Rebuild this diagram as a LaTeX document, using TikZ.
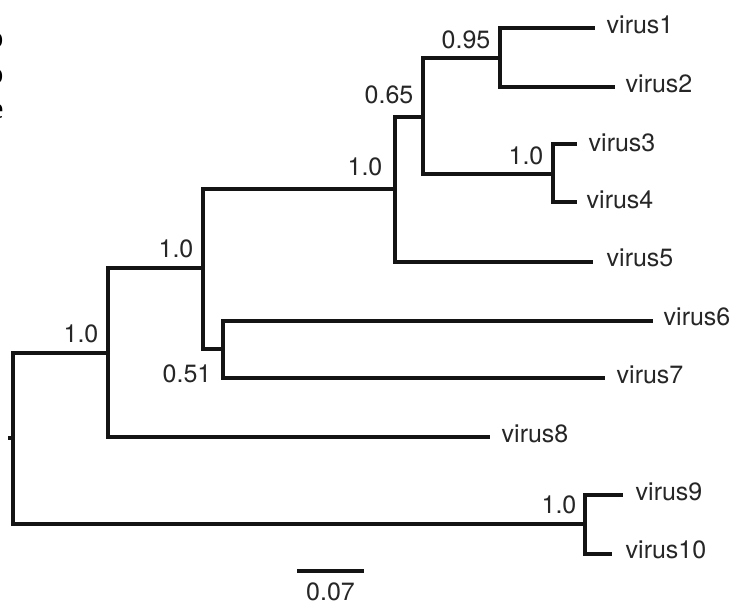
\documentclass[tikz,border=0pt]{standalone}
\usepackage{fontspec}
\setmainfont{TeX Gyre Heros}
\newfontfamily\fragfont{Liberation Serif}
\begin{document}
\begin{tikzpicture}[x=1pt,y=-1pt,
  branch/.style={line width=3.2pt, draw=black!92, line join=miter},
  leaflabel/.style={anchor=west, inner sep=0pt, font=\fontsize{25}{30}\selectfont, text=black!85},
  support/.style={anchor=center, inner sep=0pt, font=\fontsize{25}{30}\selectfont, text=black!85},
  fragment/.style={anchor=base east, inner sep=0pt, font=\fragfont\bfseries\fontsize{30}{36}\selectfont}
  ]
\useasboundingbox (0,0) rectangle (736,600);
\begin{scope}
  \clip (0,0) rectangle (736,600);
  \node[fragment] (f1) at (3.5,47) {o};
  \node[fragment] (f2) at (3.5,83) {o};
  \node[fragment] (f3) at (3.5,118) {e};
\end{scope}
% internal nodes
\coordinate (stub) at (8,438);
\coordinate (R) at (13,438);
\coordinate (A) at (108,353);
\coordinate (B) at (203,268);
\coordinate (C) at (395,189);
\coordinate (E) at (423,117);
\coordinate (F) at (500,58);
\coordinate (G) at (553,174);
\coordinate (D) at (223,349);
\coordinate (H) at (585,524);
% leaf tips
\coordinate (t1) at (595,28);
\coordinate (t2) at (615,87);
\coordinate (t3) at (577,144);
\coordinate (t4) at (577,202);
\coordinate (t5) at (593,262);
\coordinate (t6) at (653,321);
\coordinate (t7) at (605,378);
\coordinate (t8) at (490,437);
\coordinate (t9) at (623,495);
\coordinate (t10) at (612,554);
% branches
\draw[branch] (stub) -- (R);
\draw[branch] (R) |- (A);
\draw[branch] (R) |- (H);
\draw[branch] (A) |- (B);
\draw[branch] (A) |- (t8);
\draw[branch] (B) |- (C);
\draw[branch] (B) |- (D);
\draw[branch] (C) |- (E);
\draw[branch] (C) |- (t5);
\draw[branch] (E) |- (F);
\draw[branch] (E) |- (G);
\draw[branch] (F) |- (t1);
\draw[branch] (F) |- (t2);
\draw[branch] (G) |- (t3);
\draw[branch] (G) |- (t4);
\draw[branch] (D) |- (t6);
\draw[branch] (D) |- (t7);
\draw[branch] (H) |- (t9);
\draw[branch] (H) |- (t10);
% support values
\node[support] (sA) at (81,334) {1.0};
\node[support] (sB) at (176,249) {1.0};
\node[support] (sC) at (365,167) {1.0};
\node[support] (sE) at (389,95) {0.65};
\node[support] (sF) at (466,40) {0.95};
\node[support] (sG) at (526,156) {1.0};
\node[support] (sD) at (187,374) {0.51};
\node[support] (sH) at (559,505) {1.0};
% leaf labels
\node[leaflabel] (v1) at (606.5,25) {virus1};
\node[leaflabel] (v2) at (625.5,83.5) {virus2};
\node[leaflabel] (v3) at (588.5,143) {virus3};
\node[leaflabel] (v4) at (586.5,200) {virus4};
\node[leaflabel] (v5) at (606.5,258) {virus5};
\node[leaflabel] (v6) at (663.5,317) {virus6};
\node[leaflabel] (v7) at (616.5,375) {virus7};
\node[leaflabel] (v8) at (501.5,434) {virus8};
\node[leaflabel] (v9) at (635.5,492) {virus9};
\node[leaflabel] (v10) at (625.5,550) {virus10};
% scale bar
\coordinate (s1) at (297,571);
\coordinate (s2) at (364,571);
\draw[branch] (s1) -- (s2);
\node[support] (sl) at (330.5,592) {0.07};
\end{tikzpicture}
\end{document}
